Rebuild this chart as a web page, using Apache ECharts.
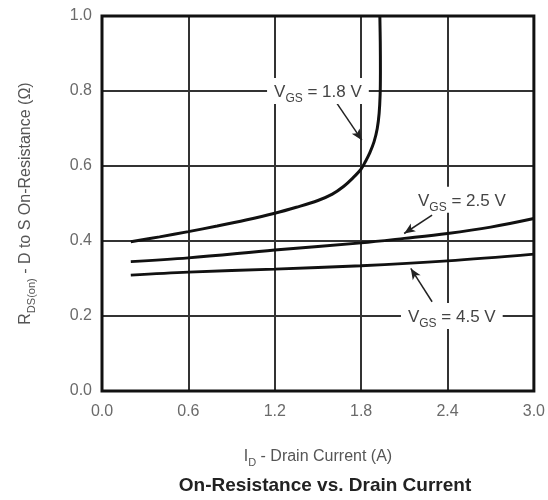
<!DOCTYPE html>
<html><head><meta charset="utf-8">
<script src="https://cdn.jsdelivr.net/npm/echarts@6/dist/echarts.min.js"></script>
<style>html,body{margin:0;padding:0;background:#fff}#c{width:548px;height:500px}</style>
</head><body><div id="c"></div>
<script>
// Data
const xTicks = [0.0, 0.6, 1.2, 1.8, 2.4, 3.0];
const yTicks = [0.0, 0.2, 0.4, 0.6, 0.8, 1.0];
const vgs18_I = [0.2, 0.4, 0.6, 0.8, 1.0, 1.2, 1.35, 1.5, 1.6, 1.68, 1.74, 1.8, 1.83, 1.86, 1.89, 1.912, 1.925, 1.932, 1.934, 1.933, 1.93];
const vgs18_R = [0.398, 0.411, 0.425, 0.44, 0.456, 0.474, 0.49, 0.508, 0.525, 0.546, 0.567, 0.592, 0.612, 0.635, 0.665, 0.7, 0.74, 0.79, 0.85, 0.93, 1.0];
const vgs25_I = [0.2, 0.6, 1.2, 1.8, 2.1, 2.4, 2.7, 3.0];
const vgs25_R = [0.345, 0.355, 0.376, 0.395, 0.407, 0.42, 0.437, 0.46];
const vgs45_I = [0.2, 0.6, 1.2, 1.8, 2.4, 3.0];
const vgs45_R = [0.309, 0.317, 0.325, 0.334, 0.347, 0.365];
const seriesNames = ['1.8', '2.5', '4.5'];
// annotation anchors (data units): label position, arrow tail, arrow head
const labelAt = [[1.50, 0.80], [2.50, 0.51], [2.43, 0.20]];
const arrowFrom = [[1.625, 0.771], [2.293, 0.469], [2.293, 0.238]];
const arrowTo = [[1.805, 0.669], [2.099, 0.42], [2.145, 0.327]];

const FONT = '"Liberation Sans", Arial, sans-serif';
const zip = (a, b) => a.map((v, i) => [v, b[i]]);
const curves = [zip(vgs18_I, vgs18_R), zip(vgs25_I, vgs25_R), zip(vgs45_I, vgs45_R)];

const series = curves.map((d, i) => ({
  type: 'line', name: seriesNames[i], data: d, smooth: 0.35, showSymbol: false,
  lineStyle: { color: '#111', width: 3 }, z: 3, animation: false,
  markLine: {
    silent: true, symbol: ['none', 'arrow'], symbolSize: [7, 11],
    lineStyle: { color: '#222', width: 1.5, type: 'solid' }, label: { show: false },
    data: [[{ coord: arrowFrom[i] }, { coord: arrowTo[i] }]]
  },
  markPoint: {
    silent: true, symbol: 'rect', symbolSize: 0,
    label: {
      show: true, position: 'inside',
      formatter: '{v|V}{s|GS}{v| = ' + seriesNames[i] + ' V}',
      backgroundColor: '#fff', padding: [3, 7],
      rich: {
        v: { fontFamily: FONT, fontSize: 17, color: '#444', verticalAlign: 'bottom', lineHeight: 20 },
        s: { fontFamily: FONT, fontSize: 12, color: '#444', verticalAlign: 'bottom', lineHeight: 15, padding: [0, 0, -4, 0] }
      }
    },
    data: [{ coord: labelAt[i] }]
  }
}));

const chart = echarts.init(document.getElementById('c'), null, { renderer: 'canvas' });
chart.setOption({
  animation: false,
  backgroundColor: '#fff',
  grid: { left: 102, right: 11, top: 16, bottom: 109, show: true, borderColor: '#111', borderWidth: 3, z: 4 },
  title: {
    text: 'On-Resistance vs. Drain Current', left: 320, top: 471, textAlign: 'center',
    textStyle: { fontFamily: FONT, fontSize: 19, fontWeight: 'bold', color: '#222' }
  },
  xAxis: {
    type: 'value', min: xTicks[0], max: xTicks[xTicks.length - 1], interval: 0.6,
    name: '{a|I}{s|D}{a| - Drain Current (A)}', nameLocation: 'middle', nameGap: 56,
    nameTextStyle: {
      rich: {
        a: { fontFamily: FONT, fontSize: 16, color: '#555', verticalAlign: 'bottom', lineHeight: 18 },
        s: { fontFamily: FONT, fontSize: 11, color: '#555', verticalAlign: 'bottom', lineHeight: 13, padding: [0, 0, -3, 0] }
      }
    },
    axisLine: { show: false }, axisTick: { show: false },
    axisLabel: { fontFamily: FONT, fontSize: 16, color: '#6a6a6a', margin: 13, formatter: v => v.toFixed(1) },
    splitLine: { show: true, lineStyle: { color: '#333', width: 2 } }
  },
  yAxis: {
    type: 'value', min: yTicks[0], max: yTicks[yTicks.length - 1], interval: 0.2,
    name: '{a|R}{s|DS(on)}{a| - D to S On-Resistance (Ω)}', nameLocation: 'middle', nameGap: 68, nameRotate: 90,
    nameTextStyle: {
      rich: {
        a: { fontFamily: FONT, fontSize: 16, color: '#555', verticalAlign: 'bottom', lineHeight: 18 },
        s: { fontFamily: FONT, fontSize: 11, color: '#555', verticalAlign: 'bottom', lineHeight: 13, padding: [0, 0, -3, 0] }
      }
    },
    axisLine: { show: false }, axisTick: { show: false },
    axisLabel: { fontFamily: FONT, fontSize: 16, color: '#6a6a6a', margin: 10, formatter: v => v.toFixed(1) },
    splitLine: { show: true, lineStyle: { color: '#333', width: 2 } }
  },
  series: series
});
</script></body></html>
